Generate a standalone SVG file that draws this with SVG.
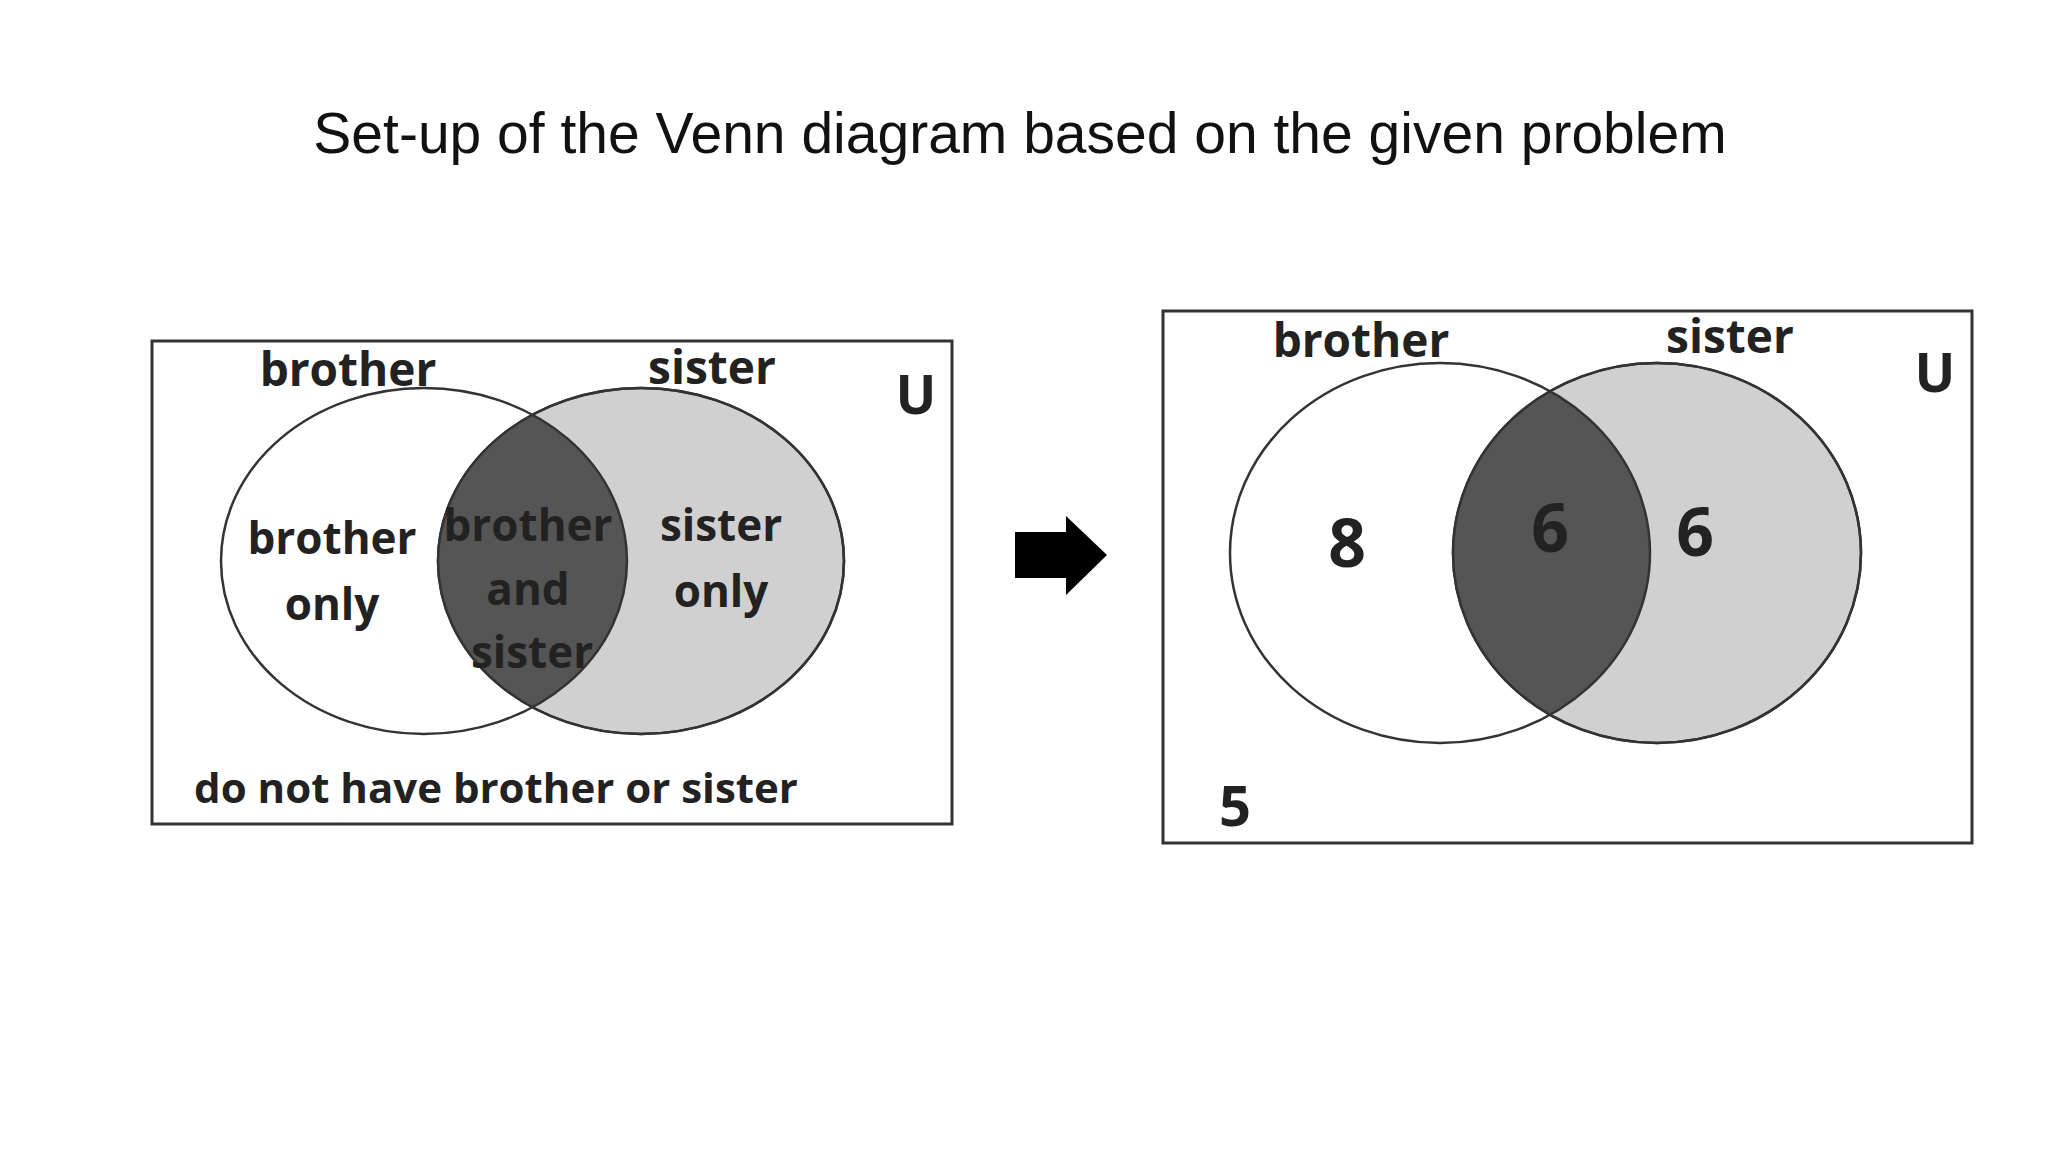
<svg xmlns="http://www.w3.org/2000/svg" width="2048" height="1152" viewBox="0 0 2048 1152">
<style>
.t{font-family:"Open Sans","Liberation Sans",sans-serif;font-weight:bold;fill:#222;text-anchor:middle;dominant-baseline:middle}
.c{stroke:#333;stroke-width:2.5}
.box{fill:#fff;stroke:#333;stroke-width:3}
</style>
<defs>
<clipPath id="cl1"><ellipse cx="424" cy="561" rx="203" ry="173"/></clipPath>
<clipPath id="cl2"><ellipse cx="1440" cy="553" rx="210" ry="190"/></clipPath>
</defs>
<rect width="2048" height="1152" fill="#fff"/>
<text x="1020" y="138" font-family="Liberation Sans, Arial, sans-serif" font-size="57" text-anchor="middle" dominant-baseline="middle" fill="#111">Set-up of the Venn diagram based on the given problem</text>
<g id="left">
<rect class="box" x="152" y="341" width="800" height="483"/>
<ellipse class="c" cx="641" cy="561" rx="203" ry="173" fill="#d0d0d0"/>
<ellipse cx="641" cy="561" rx="203" ry="173" fill="#555" clip-path="url(#cl1)"/>
<ellipse class="c" cx="424" cy="561" rx="203" ry="173" fill="none"/>
<ellipse class="c" cx="641" cy="561" rx="203" ry="173" fill="none"/>
<text class="t" x="348" y="374" font-size="46">brother</text>
<text class="t" x="712" y="372" font-size="46">sister</text>
<text class="t" x="916" y="400" font-size="54">U</text>
<text class="t" x="332" y="542" font-size="44">brother</text>
<text class="t" x="332" y="608" font-size="44">only</text>
<text class="t" x="528" y="529" font-size="44">brother</text>
<text class="t" x="528" y="593" font-size="44">and</text>
<text class="t" x="532" y="656" font-size="44">sister</text>
<text class="t" x="721" y="529" font-size="44">sister</text>
<text class="t" x="721" y="595" font-size="44">only</text>
<text class="t" x="496" y="792" font-size="42">do not have brother or sister</text>
</g>
<g id="arrow">
<polygon points="1015,532 1066,532 1066,516 1107,555 1066,595 1066,578 1015,578" fill="#000"/>
</g>
<g id="right">
<rect class="box" x="1163" y="311" width="809" height="532"/>
<ellipse class="c" cx="1657" cy="553" rx="204" ry="190" fill="#d0d0d0"/>
<ellipse cx="1657" cy="553" rx="204" ry="190" fill="#555" clip-path="url(#cl2)"/>
<ellipse class="c" cx="1440" cy="553" rx="210" ry="190" fill="none"/>
<ellipse class="c" cx="1657" cy="553" rx="204" ry="190" fill="none"/>
<text class="t" x="1361" y="345" font-size="46">brother</text>
<text class="t" x="1730" y="341" font-size="46">sister</text>
<text class="t" x="1935" y="378" font-size="54">U</text>
<text class="t" x="1347" y="549" font-size="66">8</text>
<text class="t" x="1550" y="534" font-size="66">6</text>
<text class="t" x="1695" y="538" font-size="66">6</text>
<text class="t" x="1235" y="811" font-size="56">5</text>
</g>
</svg>
